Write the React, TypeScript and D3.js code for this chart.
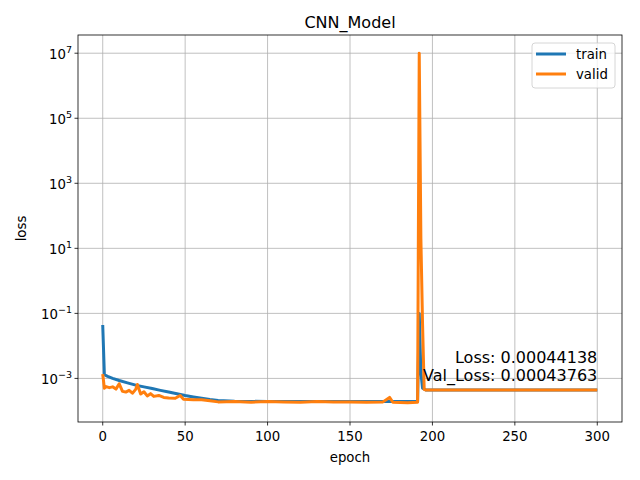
import * as d3 from "d3"

// sparse readings of the two loss curves: [epoch, loss]
const trainLoss: [number, number][] = [
  [0, 0.044], [1, 1.3e-3], [3, 1.15e-3], [6, 1.0e-3], [10, 8.6e-4], [15, 7.3e-4], [20, 6.2e-4],
  [25, 5.5e-4], [30, 4.9e-4], [35, 4.3e-4], [40, 3.8e-4], [45, 3.4e-4], [50, 3.0e-4],
  [55, 2.7e-4], [60, 2.45e-4], [65, 2.25e-4], [70, 2.1e-4], [80, 2.0e-4], [100, 1.95e-4],
  [120, 1.95e-4], [140, 1.95e-4], [160, 1.95e-4], [180, 1.95e-4], [191, 1.95e-4],
  [192, 0.1], [193, 1.5e-3], [194, 5.0e-4], [196, 4.41e-4], [300, 4.41e-4],
]
const validLoss: [number, number][] = [
  [0, 1.35e-3], [1, 5.0e-4], [2, 5.6e-4], [4, 5.2e-4], [6, 5.5e-4], [8, 4.7e-4], [10, 6.8e-4],
  [12, 4.0e-4], [14, 3.8e-4], [16, 4.3e-4], [18, 3.5e-4], [20, 4.6e-4], [21, 6.5e-4],
  [23, 3.3e-4], [25, 3.9e-4], [27, 2.9e-4], [29, 3.4e-4], [31, 2.8e-4], [34, 3.0e-4],
  [37, 2.6e-4], [40, 2.5e-4], [44, 2.45e-4], [47, 3.0e-4], [49, 2.3e-4], [55, 2.2e-4],
  [60, 2.2e-4], [65, 2.05e-4], [70, 1.9e-4], [80, 1.95e-4], [90, 1.85e-4], [100, 1.95e-4],
  [110, 1.9e-4], [120, 1.85e-4], [130, 1.95e-4], [140, 1.9e-4], [150, 1.9e-4],
  [160, 1.85e-4], [170, 1.9e-4], [174, 2.6e-4], [176, 1.85e-4], [185, 1.8e-4],
  [191, 1.85e-4], [192, 1.0e7], [193, 20], [194, 5e-2], [195, 4.6e-4], [196, 4.38e-4],
  [300, 4.38e-4],
]
const xTicks = [0, 50, 100, 150, 200, 250, 300]
const yExps = [-3, -1, 1, 3, 5, 7]
const notes = ["Loss: 0.00044138", "Val_Loss: 0.00043763"]

const W = 640, H = 480
const left = 78, right = 622, top = 35, bottom = 422
const font = "DejaVu Sans, sans-serif"

export default function App() {
  const x = d3.scaleLinear().domain([-15, 315]).range([left, right])
  const y = d3.scaleLog().domain([Math.pow(10, -4.34), Math.pow(10, 7.56)]).range([bottom, top])
  const line = d3.line<[number, number]>().x(d => x(d[0])).y(d => y(d[1]))
  const series = [
    { name: "train", data: trainLoss, color: "#1f77b4" },
    { name: "valid", data: validLoss, color: "#ff7f0e" },
  ]
  return (
    <svg width={W} height={H} style={{ position: "absolute", left: 0, top: 0 }} fontFamily={font}>
      <rect width={W} height={H} fill="#fff" />
      <defs>
        <clipPath id="plot"><rect x={left} y={top} width={right - left} height={bottom - top} /></clipPath>
      </defs>
      {xTicks.map(t => (
        <g key={t}>
          <line x1={x(t)} x2={x(t)} y1={top} y2={bottom} stroke="#b0b0b0" strokeWidth={0.8} />
          <line x1={x(t)} x2={x(t)} y1={bottom} y2={bottom + 3.5} stroke="#000" strokeWidth={0.8} />
          <text x={x(t)} y={bottom + 19} fontSize={13.3} textAnchor="middle">{t}</text>
        </g>
      ))}
      {yExps.map(e => (
        <g key={e}>
          <line x1={left} x2={right} y1={y(Math.pow(10, e))} y2={y(Math.pow(10, e))} stroke="#b0b0b0" strokeWidth={0.8} />
          <line x1={left - 3.5} x2={left} y1={y(Math.pow(10, e))} y2={y(Math.pow(10, e))} stroke="#000" strokeWidth={0.8} />
          <text x={left - 6} y={y(Math.pow(10, e)) + 6} fontSize={13.3} textAnchor="end">
            10<tspan dy={-6} fontSize={9.5}>{e < 0 ? "\u2212" + -e : e}</tspan>
          </text>
        </g>
      ))}
      <g clipPath="url(#plot)">
        {series.map(s => (
          <path key={s.name} d={line(s.data) ?? ""} fill="none" stroke={s.color} strokeWidth={3} strokeLinejoin="round" />
        ))}
      </g>
      <rect x={left} y={top} width={right - left} height={bottom - top} fill="none" stroke="#000" strokeWidth={0.8} />
      {notes.map((n, i) => (
        <text key={n} x={x(300)} y={363 + i * 18} fontSize={16} textAnchor="end">{n}</text>
      ))}
      <rect x={532} y={43} width={83} height={45} rx={3} fill="#fff" fillOpacity={0.8} stroke="#ccc" strokeWidth={0.8} />
      {series.map((s, i) => (
        <g key={s.name}>
          <line x1={536} x2={566} y1={54 + i * 20} y2={54 + i * 20} stroke={s.color} strokeWidth={3} />
          <text x={576} y={59 + i * 20} fontSize={13.3}>{s.name}</text>
        </g>
      ))}
      <text x={(left + right) / 2} y={28} fontSize={16} textAnchor="middle">CNN_Model</text>
      <text x={(left + right) / 2} y={462} fontSize={13.3} textAnchor="middle">epoch</text>
      <text transform={`translate(26,${(top + bottom) / 2}) rotate(-90)`} fontSize={13.3} textAnchor="middle">loss</text>
    </svg>
  )
}
